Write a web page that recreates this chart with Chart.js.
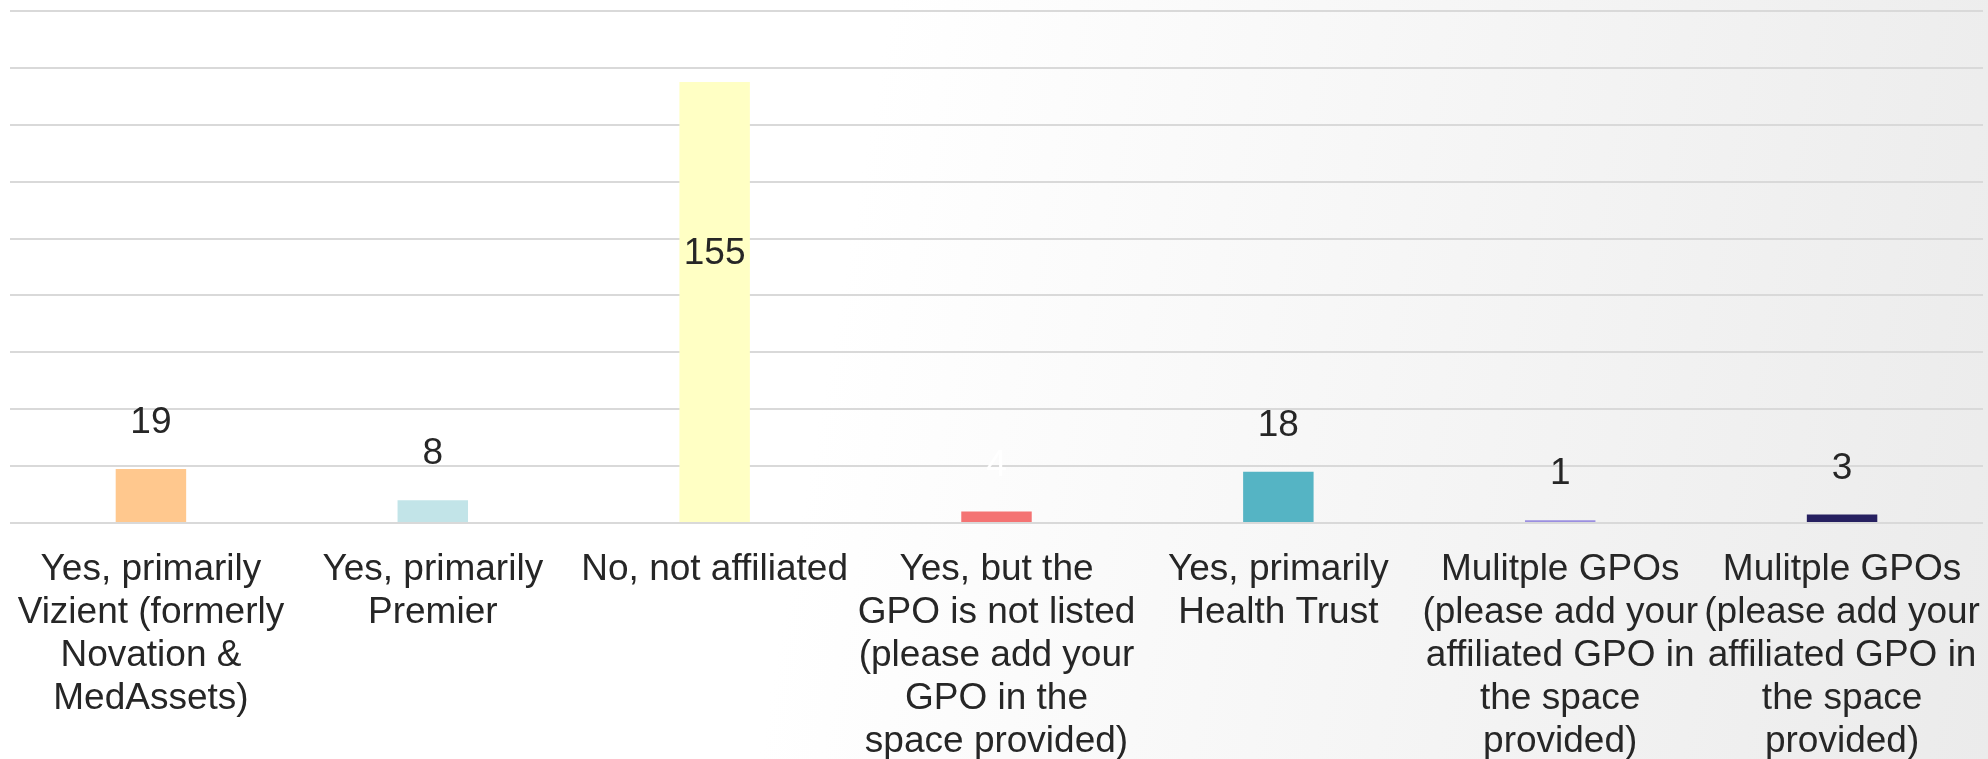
<!DOCTYPE html>
<html>
<head>
<meta charset="utf-8">
<script src="https://cdn.jsdelivr.net/npm/chart.js@4"></script>
<style>
  html, body { margin: 0; padding: 0; }
  body {
    width: 1988px;
    height: 759px;
    background: linear-gradient(100deg, #ffffff 42%, #ebebeb 100%);
  }
  #wrap { width: 1988px; height: 759px; }
</style>
</head>
<body>
<div id="wrap"><canvas id="chart"></canvas></div>
<script>
// categories (wrapped the way the original shows them)
const categories = [
  ["Yes, primarily", "Vizient (formerly", "Novation &", "MedAssets)"],
  ["Yes, primarily", "Premier"],
  ["No, not affiliated"],
  ["Yes, but the", "GPO is not listed", "(please add your", "GPO in the", "space provided)"],
  ["Yes, primarily", "Health Trust"],
  ["Mulitple GPOs", "(please add your", "affiliated GPO in", "the space", "provided)"],
  ["Mulitple GPOs", "(please add your", "affiliated GPO in", "the space", "provided)"],
];
const counts = [19, 8, 155, 4, 18, 1, 3];
const yTicks = [0, 20, 40, 60, 80, 100, 120, 140, 160, 180];

const barColors = ["#ffc88e", "#c2e4e8", "#ffffc4", "#f47373", "#55b4c4", "#9b8fe0", "#262060"];
const labelColors = ["#262626", "#262626", "#262626", "#ffffff", "#262626", "#262626", "#262626"];

const FONT = "'Liberation Sans', Arial, sans-serif";

// value labels: above the bar, or inside for the tall one
const valueLabels = {
  id: "valueLabels",
  afterDatasetsDraw(chart) {
    const ctx = chart.ctx;
    const yScale = chart.scales.y;
    const meta = chart.getDatasetMeta(0);
    ctx.save();
    ctx.font = "37px " + FONT;
    ctx.textAlign = "center";
    ctx.textBaseline = "middle";
    meta.data.forEach((bar, i) => {
      const v = counts[i];
      let y;
      if (v > 100) {
        y = yScale.getPixelForValue(v * 0.61);
      } else {
        y = bar.y - 46;
      }
      ctx.fillStyle = labelColors[i];
      ctx.fillText(String(v), bar.x, y);
    });
    ctx.restore();
  },
};

new Chart(document.getElementById("chart"), {
  type: "bar",
  data: {
    labels: categories,
    datasets: [
      {
        data: counts,
        backgroundColor: barColors,
        barPercentage: 0.25,
        categoryPercentage: 1,
      },
    ],
  },
  options: {
    responsive: true,
    maintainAspectRatio: false,
    animation: false,
    layout: { padding: { top: 11, left: 10, right: 5, bottom: 0 } },
    plugins: {
      legend: { display: false },
      tooltip: { enabled: false },
    },
    scales: {
      x: {
        grid: { display: false, drawTicks: false },
        border: { display: false },
        ticks: {
          color: "#262626",
          font: { family: FONT, size: 37, lineHeight: 1.165 },
          padding: 25,
          maxRotation: 0,
          autoSkip: false,
        },
        afterFit: (s) => {
          s.height = 236;
          s.paddingLeft = 0;
          s.paddingRight = 0;
        },
      },
      y: {
        min: 0,
        max: yTicks[yTicks.length - 1],
        afterBuildTicks: (s) => { s.ticks = yTicks.map((v) => ({ value: v })); },
        ticks: { display: false },
        grid: { color: "#d9d9d9", lineWidth: 2, drawTicks: false },
        border: { display: false },
        afterFit: (s) => { s.width = 0; },
      },
    },
  },
  plugins: [valueLabels],
});
</script>
</body>
</html>
